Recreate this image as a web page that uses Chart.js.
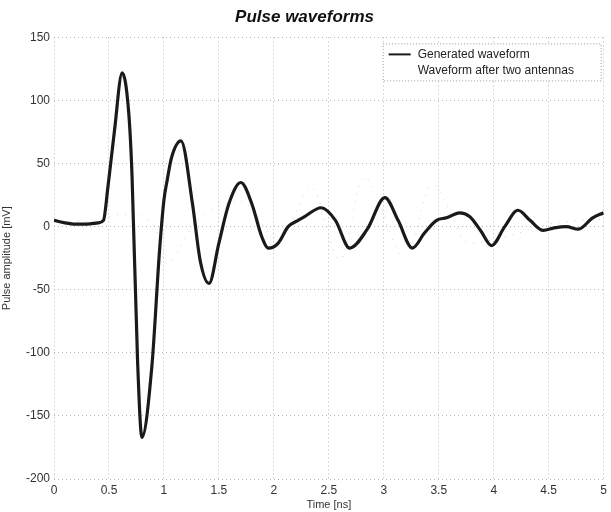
<!DOCTYPE html>
<html>
<head>
<meta charset="utf-8">
<script src="https://cdn.jsdelivr.net/npm/chart.js@4/dist/chart.umd.min.js"></script>
<style>
  html, body { margin: 0; padding: 0; background: #fff; }
  #wrap { width: 611px; height: 512px; }
</style>
</head>
<body>
<div id="wrap"><canvas id="chart"></canvas></div>
<script>
// generated pulse, time in ns, amplitude in mV
const genTime = [0, 0.1, 0.2, 0.3, 0.4, 0.45, 0.49, 0.55, 0.62, 0.68, 0.71, 0.76, 0.8, 0.89, 0.96, 1.0, 1.03, 1.07, 1.155,
  1.26, 1.33, 1.41, 1.5, 1.59, 1.7, 1.8, 1.89, 1.95, 2.04, 2.13, 2.22, 2.28, 2.43, 2.56, 2.69, 2.85, 3.01, 3.13, 3.26,
  3.37, 3.48, 3.57, 3.69, 3.78, 3.88, 3.98, 4.1, 4.22, 4.33, 4.45, 4.55, 4.66, 4.77, 4.9, 5.0];
const genAmp = [5, 3, 2, 2, 3, 5, 31, 76, 122, 90, 40, -106, -167, -111, -19, 21, 37, 55, 68,
  18, -27, -45, -13, 18, 35, 18, -8, -17, -13, 0, 5, 8, 15, 5, -17, -2, 23, 5, -17,
  -5, 5, 7, 11, 8, -3, -15, 0, 13, 5, -3, -1, 0, -2, 7, 11];

// faint trace of the waveform after two antennas
const antTime = [0, 0.3, 0.64, 0.87, 0.93, 1.02, 1.3, 1.7, 2.05, 2.34, 2.6, 2.82, 3.19, 3.44, 3.78, 4.15, 4.5, 5.0];
const antAmp = [5, 4, 10, 5, -3, -29, 5, 20, -10, 31, -26, 39, -24, 33, -13, -7, 2, 6];

const xTicks = [0, 0.5, 1, 1.5, 2, 2.5, 3, 3.5, 4, 4.5, 5];
const seriesNames = ["Generated waveform", "Waveform after two antennas"];

const toPoints = (xs, ys) => xs.map((x, i) => ({ x: x, y: ys[i] }));

// legend box in the top right corner of the plot
const boxLegend = {
  id: "boxLegend",
  afterDraw(chart) {
    const ctx = chart.ctx;
    const area = chart.chartArea;
    const w = 218, h = 37;
    const left = area.right - w - 3, top = area.top + 6;
    ctx.save();
    ctx.fillStyle = "#fff";
    ctx.fillRect(left, top, w, h);
    ctx.strokeStyle = "#999";
    ctx.lineWidth = 1;
    ctx.setLineDash([1, 2]);
    ctx.strokeRect(left + 0.5, top + 0.5, w, h);
    ctx.setLineDash([]);
    ctx.font = "12px 'Liberation Sans', Arial, sans-serif";
    ctx.textBaseline = "middle";
    ctx.fillStyle = "#222";
    chart.data.datasets.forEach((ds, i) => {
      const y = top + 11 + i * 16;
      if (i === 0) {
        ctx.strokeStyle = ds.borderColor;
        ctx.lineWidth = 2;
        ctx.beginPath();
        ctx.moveTo(left + 6, y);
        ctx.lineTo(left + 28, y);
        ctx.stroke();
      }
      ctx.fillText(ds.label, left + 35, y);
    });
    ctx.restore();
  }
};

const gridStyle = {
  color: "#b5b5b5",
  lineWidth: 1,
  drawTicks: false
};

new Chart(document.getElementById("chart"), {
  type: "scatter",
  data: {
    datasets: [
      {
        label: seriesNames[0],
        data: toPoints(genTime, genAmp),
        showLine: true,
        borderColor: "#1a1a1a",
        borderWidth: 3.2,
        pointRadius: 0,
        cubicInterpolationMode: "monotone"
      },
      {
        label: seriesNames[1],
        data: toPoints(antTime, antAmp),
        showLine: true,
        borderColor: "rgba(190,190,190,0.7)",
        borderWidth: 1,
        borderDash: [1, 7],
        pointRadius: 0,
        cubicInterpolationMode: "monotone"
      }
    ]
  },
  options: {
    responsive: true,
    maintainAspectRatio: false,
    animation: false,
    layout: { padding: { left: 0, right: 2, top: 0, bottom: 0 } },
    plugins: {
      legend: { display: false },
      tooltip: { enabled: false },
      title: {
        display: true,
        text: "Pulse waveforms",
        color: "#111",
        font: { family: "'Liberation Sans', Arial, sans-serif", size: 17, weight: "bold", style: "italic" },
        padding: { top: 7, bottom: 10 }
      }
    },
    scales: {
      x: {
        type: "linear",
        min: 0,
        max: 5,
        afterBuildTicks: (scale) => { scale.ticks = xTicks.map((v) => ({ value: v })); },
        grid: gridStyle,
        border: { display: false, dash: [1, 3] },
        ticks: {
          color: "#333",
          padding: 4,
          maxRotation: 0,
          callback: (v) => String(v),
          font: { family: "'Liberation Sans', Arial, sans-serif", size: 12 }
        },
        title: {
          display: true,
          text: "Time [ns]",
          color: "#333",
          padding: { top: 0, bottom: 0 },
          font: { family: "'Liberation Sans', Arial, sans-serif", size: 11 }
        },
        afterFit: (scale) => { scale.height = 33; }
      },
      y: {
        min: -200,
        max: 150,
        ticks: {
          stepSize: 50,
          color: "#333",
          padding: 4,
          font: { family: "'Liberation Sans', Arial, sans-serif", size: 12 }
        },
        grid: gridStyle,
        border: { display: false, dash: [1, 3] },
        title: {
          display: true,
          text: "Pulse amplitude [mV]",
          color: "#333",
          padding: { top: 0, bottom: 2 },
          font: { family: "'Liberation Sans', Arial, sans-serif", size: 11 }
        },
        afterFit: (scale) => { scale.width = 54; }
      }
    }
  },
  plugins: [boxLegend]
});
</script>
</body>
</html>
